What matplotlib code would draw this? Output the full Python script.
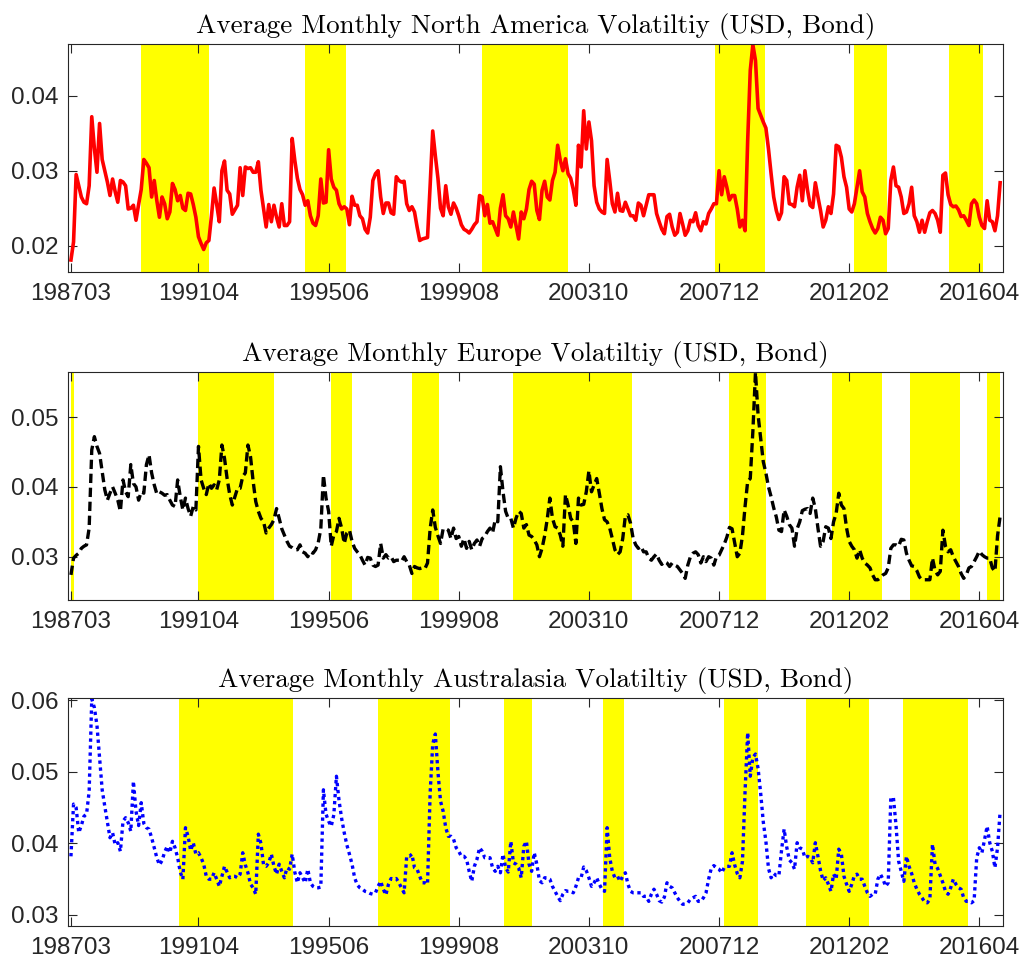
import matplotlib
matplotlib.use('Agg')
import matplotlib.pyplot as plt
import numpy as np
import pandas as pd

# monthly average volatility, 198703 .. 201612
na_vol = [
    0.0181, 0.0205, 0.0295, 0.0280, 0.0265, 0.0258, 0.0256, 0.0280, 0.0372, 0.0330,
    0.0298, 0.0363, 0.0315, 0.0300, 0.0285, 0.0267, 0.0289, 0.0272, 0.0258, 0.0287,
    0.0285, 0.0280, 0.0249, 0.0250, 0.0254, 0.0234, 0.0255, 0.0275, 0.0315, 0.0310,
    0.0304, 0.0265, 0.0287, 0.0260, 0.0238, 0.0265, 0.0256, 0.0236, 0.0245, 0.0283,
    0.0275, 0.0260, 0.0267, 0.0250, 0.0247, 0.0270, 0.0269, 0.0255, 0.0238, 0.0212,
    0.0203, 0.0195, 0.0204, 0.0207, 0.0240, 0.0277, 0.0255, 0.0232, 0.0300, 0.0313,
    0.0274, 0.0269, 0.0242, 0.0248, 0.0254, 0.0304, 0.0267, 0.0305, 0.0303, 0.0304,
    0.0298, 0.0298, 0.0312, 0.0274, 0.0250, 0.0225, 0.0255, 0.0232, 0.0254, 0.0238,
    0.0225, 0.0256, 0.0227, 0.0227, 0.0232, 0.0343, 0.0314, 0.0290, 0.0275, 0.0268,
    0.0254, 0.0260, 0.0240, 0.0230, 0.0227, 0.0240, 0.0289, 0.0257, 0.0258, 0.0328,
    0.0289, 0.0278, 0.0274, 0.0256, 0.0249, 0.0252, 0.0249, 0.0228, 0.0266, 0.0254,
    0.0254, 0.0240, 0.0236, 0.0222, 0.0217, 0.0238, 0.0287, 0.0296, 0.0300, 0.0265,
    0.0243, 0.0257, 0.0257, 0.0244, 0.0242, 0.0292, 0.0287, 0.0285, 0.0286, 0.0256,
    0.0247, 0.0252, 0.0245, 0.0225, 0.0207, 0.0209, 0.0210, 0.0211, 0.0280, 0.0353,
    0.0320, 0.0290, 0.0250, 0.0240, 0.0280, 0.0252, 0.0242, 0.0257, 0.0250, 0.0240,
    0.0228, 0.0222, 0.0220, 0.0217, 0.0222, 0.0228, 0.0232, 0.0267, 0.0265, 0.0240,
    0.0255, 0.0230, 0.0232, 0.0223, 0.0214, 0.0250, 0.0268, 0.0240, 0.0236, 0.0225,
    0.0245, 0.0227, 0.0209, 0.0245, 0.0236, 0.0249, 0.0275, 0.0286, 0.0282, 0.0247,
    0.0235, 0.0274, 0.0286, 0.0265, 0.0261, 0.0287, 0.0298, 0.0334, 0.0314, 0.0300,
    0.0316, 0.0296, 0.0290, 0.0275, 0.0254, 0.0334, 0.0305, 0.0380, 0.0329, 0.0365,
    0.0340, 0.0280, 0.0258, 0.0249, 0.0245, 0.0243, 0.0315, 0.0287, 0.0256, 0.0245,
    0.0270, 0.0247, 0.0246, 0.0258, 0.0249, 0.0240, 0.0240, 0.0234, 0.0257, 0.0254,
    0.0240, 0.0254, 0.0268, 0.0268, 0.0268, 0.0243, 0.0232, 0.0222, 0.0216, 0.0239,
    0.0242, 0.0225, 0.0214, 0.0218, 0.0243, 0.0229, 0.0214, 0.0220, 0.0234, 0.0232,
    0.0244, 0.0227, 0.0220, 0.0232, 0.0229, 0.0243, 0.0249, 0.0256, 0.0256, 0.0300,
    0.0268, 0.0292, 0.0278, 0.0261, 0.0267, 0.0267, 0.0249, 0.0225, 0.0234, 0.0220,
    0.0340, 0.0434, 0.0468, 0.0447, 0.0383, 0.0374, 0.0365, 0.0357, 0.0329, 0.0296,
    0.0265, 0.0247, 0.0235, 0.0244, 0.0292, 0.0287, 0.0256, 0.0255, 0.0252, 0.0278,
    0.0294, 0.0260, 0.0300, 0.0274, 0.0254, 0.0251, 0.0284, 0.0265, 0.0247, 0.0225,
    0.0234, 0.0252, 0.0243, 0.0269, 0.0334, 0.0332, 0.0318, 0.0292, 0.0278, 0.0249,
    0.0245, 0.0256, 0.0278, 0.0300, 0.0272, 0.0265, 0.0243, 0.0232, 0.0223, 0.0217,
    0.0223, 0.0238, 0.0234, 0.0216, 0.0223, 0.0287, 0.0305, 0.0280, 0.0278, 0.0265,
    0.0243, 0.0245, 0.0256, 0.0278, 0.0240, 0.0232, 0.0218, 0.0234, 0.0218, 0.0232,
    0.0244, 0.0247, 0.0243, 0.0234, 0.0218, 0.0294, 0.0297, 0.0268, 0.0255, 0.0252,
    0.0253, 0.0248, 0.0239, 0.0240, 0.0234, 0.0227, 0.0256, 0.0261, 0.0256, 0.0238,
    0.0227, 0.0223, 0.0260, 0.0234, 0.0232, 0.0220, 0.0240, 0.0284,
]

eu_vol = [
    0.0274, 0.0298, 0.0302, 0.0305, 0.0312, 0.0315, 0.0317, 0.0341, 0.0453, 0.0472,
    0.0458, 0.0448, 0.0422, 0.0396, 0.0381, 0.0391, 0.0400, 0.0391, 0.0381, 0.0365,
    0.0410, 0.0393, 0.0386, 0.0432, 0.0405, 0.0400, 0.0381, 0.0393, 0.0391, 0.0432,
    0.0446, 0.0420, 0.0403, 0.0390, 0.0393, 0.0391, 0.0388, 0.0389, 0.0381, 0.0374,
    0.0372, 0.0410, 0.0386, 0.0367, 0.0384, 0.0369, 0.0358, 0.0372, 0.0367, 0.0458,
    0.0410, 0.0398, 0.0389, 0.0405, 0.0398, 0.0403, 0.0396, 0.0410, 0.0460, 0.0441,
    0.0412, 0.0389, 0.0374, 0.0386, 0.0398, 0.0398, 0.0415, 0.0420, 0.0460, 0.0443,
    0.0408, 0.0379, 0.0365, 0.0355, 0.0350, 0.0334, 0.0341, 0.0346, 0.0353, 0.0369,
    0.0355, 0.0340, 0.0331, 0.0322, 0.0315, 0.0313, 0.0310, 0.0310, 0.0317, 0.0307,
    0.0305, 0.0300, 0.0307, 0.0305, 0.0310, 0.0320, 0.0340, 0.0417, 0.0384, 0.0365,
    0.0315, 0.0331, 0.0336, 0.0355, 0.0341, 0.0319, 0.0334, 0.0338, 0.0322, 0.0312,
    0.0307, 0.0303, 0.0295, 0.0288, 0.0299, 0.0298, 0.0288, 0.0286, 0.0288, 0.0319,
    0.0298, 0.0303, 0.0298, 0.0300, 0.0293, 0.0295, 0.0295, 0.0293, 0.0300, 0.0293,
    0.0288, 0.0276, 0.0286, 0.0284, 0.0283, 0.0284, 0.0283, 0.0291, 0.0340, 0.0367,
    0.0342, 0.0330, 0.0319, 0.0340, 0.0340, 0.0338, 0.0326, 0.0341, 0.0326, 0.0329,
    0.0315, 0.0326, 0.0312, 0.0322, 0.0310, 0.0319, 0.0324, 0.0315, 0.0326, 0.0329,
    0.0336, 0.0341, 0.0334, 0.0353, 0.0350, 0.0429, 0.0393, 0.0365, 0.0355, 0.0355,
    0.0341, 0.0355, 0.0365, 0.0362, 0.0341, 0.0346, 0.0331, 0.0329, 0.0324, 0.0317,
    0.0300, 0.0312, 0.0330, 0.0354, 0.0384, 0.0355, 0.0343, 0.0341, 0.0331, 0.0315,
    0.0389, 0.0374, 0.0355, 0.0350, 0.0319, 0.0384, 0.0374, 0.0375, 0.0393, 0.0423,
    0.0393, 0.0403, 0.0412, 0.0391, 0.0369, 0.0353, 0.0350, 0.0341, 0.0326, 0.0310,
    0.0303, 0.0307, 0.0326, 0.0358, 0.0360, 0.0348, 0.0326, 0.0317, 0.0312, 0.0315,
    0.0307, 0.0307, 0.0298, 0.0295, 0.0300, 0.0304, 0.0295, 0.0289, 0.0293, 0.0291,
    0.0286, 0.0291, 0.0288, 0.0286, 0.0281, 0.0276, 0.0269, 0.0288, 0.0300, 0.0305,
    0.0307, 0.0303, 0.0291, 0.0300, 0.0293, 0.0300, 0.0298, 0.0288, 0.0300, 0.0302,
    0.0310, 0.0318, 0.0328, 0.0342, 0.0340, 0.0320, 0.0300, 0.0305, 0.0330, 0.0372,
    0.0408, 0.0412, 0.0480, 0.0564, 0.0503, 0.0470, 0.0436, 0.0420, 0.0400, 0.0386,
    0.0370, 0.0357, 0.0338, 0.0336, 0.0367, 0.0358, 0.0346, 0.0341, 0.0315, 0.0340,
    0.0350, 0.0366, 0.0368, 0.0369, 0.0362, 0.0384, 0.0369, 0.0341, 0.0315, 0.0322,
    0.0343, 0.0341, 0.0326, 0.0350, 0.0362, 0.0391, 0.0374, 0.0369, 0.0341, 0.0322,
    0.0315, 0.0310, 0.0298, 0.0310, 0.0298, 0.0291, 0.0288, 0.0284, 0.0274, 0.0267,
    0.0267, 0.0270, 0.0274, 0.0276, 0.0284, 0.0312, 0.0317, 0.0317, 0.0315, 0.0325,
    0.0324, 0.0305, 0.0295, 0.0287, 0.0286, 0.0280, 0.0271, 0.0267, 0.0267, 0.0267,
    0.0267, 0.0298, 0.0280, 0.0274, 0.0279, 0.0338, 0.0315, 0.0307, 0.0310, 0.0300,
    0.0293, 0.0286, 0.0276, 0.0269, 0.0274, 0.0284, 0.0286, 0.0293, 0.0300, 0.0308,
    0.0303, 0.0300, 0.0298, 0.0298, 0.0284, 0.0279, 0.0330, 0.0358,
]

au_vol = [
    0.0382, 0.0455, 0.0450, 0.0415, 0.0425, 0.0438, 0.0441, 0.0473, 0.0602, 0.0590,
    0.0565, 0.0520, 0.0475, 0.0452, 0.0430, 0.0408, 0.0415, 0.0398, 0.0401, 0.0389,
    0.0431, 0.0436, 0.0429, 0.0417, 0.0487, 0.0445, 0.0425, 0.0457, 0.0428, 0.0422,
    0.0420, 0.0408, 0.0394, 0.0380, 0.0370, 0.0376, 0.0388, 0.0396, 0.0387, 0.0403,
    0.0394, 0.0380, 0.0360, 0.0350, 0.0422, 0.0410, 0.0390, 0.0401, 0.0385, 0.0387,
    0.0380, 0.0371, 0.0354, 0.0350, 0.0350, 0.0359, 0.0350, 0.0340, 0.0354, 0.0368,
    0.0360, 0.0352, 0.0354, 0.0354, 0.0352, 0.0357, 0.0387, 0.0370, 0.0359, 0.0343,
    0.0338, 0.0329, 0.0413, 0.0400, 0.0370, 0.0368, 0.0373, 0.0385, 0.0368, 0.0357,
    0.0371, 0.0361, 0.0352, 0.0366, 0.0364, 0.0385, 0.0360, 0.0345, 0.0359, 0.0352,
    0.0345, 0.0364, 0.0345, 0.0340, 0.0338, 0.0338, 0.0339, 0.0475, 0.0441, 0.0431,
    0.0424, 0.0440, 0.0494, 0.0460, 0.0435, 0.0415, 0.0398, 0.0385, 0.0371, 0.0352,
    0.0342, 0.0338, 0.0336, 0.0333, 0.0332, 0.0330, 0.0329, 0.0331, 0.0340, 0.0347,
    0.0336, 0.0328, 0.0343, 0.0351, 0.0350, 0.0351, 0.0345, 0.0338, 0.0331, 0.0382,
    0.0382, 0.0385, 0.0366, 0.0364, 0.0354, 0.0345, 0.0345, 0.0343, 0.0470, 0.0539,
    0.0553, 0.0500, 0.0459, 0.0445, 0.0422, 0.0410, 0.0410, 0.0406, 0.0394, 0.0389,
    0.0382, 0.0382, 0.0378, 0.0361, 0.0347, 0.0368, 0.0378, 0.0394, 0.0389, 0.0380,
    0.0380, 0.0380, 0.0366, 0.0361, 0.0368, 0.0359, 0.0385, 0.0366, 0.0360, 0.0403,
    0.0373, 0.0371, 0.0366, 0.0352, 0.0396, 0.0403, 0.0371, 0.0361, 0.0387, 0.0371,
    0.0348, 0.0345, 0.0352, 0.0352, 0.0350, 0.0340, 0.0333, 0.0326, 0.0320, 0.0329,
    0.0334, 0.0333, 0.0333, 0.0331, 0.0340, 0.0352, 0.0352, 0.0367, 0.0362, 0.0352,
    0.0340, 0.0345, 0.0352, 0.0343, 0.0336, 0.0333, 0.0422, 0.0380, 0.0361, 0.0352,
    0.0354, 0.0347, 0.0354, 0.0359, 0.0343, 0.0333, 0.0331, 0.0331, 0.0331, 0.0331,
    0.0326, 0.0326, 0.0319, 0.0329, 0.0336, 0.0329, 0.0320, 0.0318, 0.0325, 0.0345,
    0.0340, 0.0338, 0.0331, 0.0324, 0.0319, 0.0315, 0.0315, 0.0317, 0.0322, 0.0324,
    0.0326, 0.0319, 0.0319, 0.0324, 0.0331, 0.0350, 0.0365, 0.0369, 0.0366, 0.0364,
    0.0359, 0.0366, 0.0368, 0.0368, 0.0387, 0.0370, 0.0358, 0.0352, 0.0375, 0.0473,
    0.0555, 0.0494, 0.0520, 0.0525, 0.0505, 0.0470, 0.0430, 0.0403, 0.0365, 0.0352,
    0.0358, 0.0355, 0.0355, 0.0390, 0.0420, 0.0395, 0.0377, 0.0373, 0.0364, 0.0401,
    0.0394, 0.0392, 0.0380, 0.0382, 0.0380, 0.0373, 0.0401, 0.0382, 0.0362, 0.0348,
    0.0352, 0.0343, 0.0333, 0.0357, 0.0350, 0.0392, 0.0385, 0.0354, 0.0343, 0.0333,
    0.0343, 0.0355, 0.0357, 0.0350, 0.0350, 0.0340, 0.0331, 0.0326, 0.0329, 0.0329,
    0.0350, 0.0357, 0.0350, 0.0340, 0.0345, 0.0464, 0.0464, 0.0425, 0.0375, 0.0361,
    0.0347, 0.0382, 0.0368, 0.0358, 0.0345, 0.0336, 0.0329, 0.0324, 0.0318, 0.0317,
    0.0322, 0.0399, 0.0371, 0.0365, 0.0355, 0.0345, 0.0333, 0.0329, 0.0338, 0.0350,
    0.0343, 0.0338, 0.0336, 0.0324, 0.0319, 0.0319, 0.0317, 0.0320, 0.0380, 0.0394,
    0.0387, 0.0405, 0.0424, 0.0401, 0.0389, 0.0366, 0.0394, 0.0445,
]

# highlighted periods (month number, 1 = 198703)
na_bands = [(28, 54), (91, 106.5), (159, 192), (248.5, 267.5), (302, 314.5), (338.5, 351.5)]
eu_bands = [(1, 2), (50, 79), (101, 109), (132, 142.5), (171, 216.5), (254, 268),
            (293.5, 312.5), (323.5, 342.5), (353, 358)]
au_bands = [(42.5, 86.5), (119, 146.5), (167.5, 178), (205.5, 213.5), (252, 265),
            (283.5, 307.5), (320.5, 345.5)]

tick_labels = ['198703', '199104', '199506', '199908', '200310', '200712', '201202', '201604']

titles = ['Average Monthly North America Volatiltiy (USD, Bond)',
          'Average Monthly Europe Volatiltiy (USD, Bond)',
          'Average Monthly Australasia Volatiltiy (USD, Bond)']

n = len(na_vol)
months = pd.period_range('1987-03', periods=n, freq='M').strftime('%Y%m')
xt = [list(months).index(t) + 1 for t in tick_labels]

plt.rcParams['font.family'] = 'Liberation Sans'
plt.rcParams['axes.formatter.use_mathtext'] = True

fig = plt.figure(figsize=(10.23, 9.69), dpi=100)
rects = [[0.0668, 0.7193, 0.9134, 0.2353],
         [0.0668, 0.3808, 0.9134, 0.2356],
         [0.0668, 0.0447, 0.9134, 0.2347]]
series = [na_vol, eu_vol, au_vol]
bands = [na_bands, eu_bands, au_bands]
styles = [dict(color='r', ls='-', lw=2.6),
          dict(color='k', ls=(0, (2.8, 1.4)), lw=2.4),
          dict(color='b', ls=(0, (1, 1.1)), lw=2.4)]
ylims = [(0.0165, 0.0469), (0.0238, 0.0565), (0.0285, 0.0603)]
yticks = [[0.02, 0.03, 0.04], [0.03, 0.04, 0.05], [0.03, 0.04, 0.05, 0.06]]

for k in range(3):
    ax = fig.add_axes(rects[k])
    y = np.array(series[k])
    x = np.arange(1, len(y) + 1)
    for a, b in bands[k]:
        ax.axvspan(a, b, color='yellow', lw=0, zorder=0)
    ax.plot(x, y, zorder=2, **styles[k])
    ax.set_xlim(0, 359)
    ax.set_ylim(*ylims[k])
    ax.set_xticks(xt)
    ax.set_xticklabels(tick_labels)
    ax.set_yticks(yticks[k])
    ax.set_yticklabels(['%.2f' % v for v in yticks[k]])
    ax.tick_params(direction='in', length=6.5, width=0.8, colors='#262626',
                   labelsize=17.5, top=True, right=True)
    ax.tick_params(axis='x', pad=8)
    ax.tick_params(axis='y', pad=7)
    ax.tick_params(labelcolor='#262626')
    for s in ax.spines.values():
        s.set_color('#262626')
        s.set_linewidth(0.8)
    ax.set_title(titles[k], fontsize=19.5, family='cmr10', pad=8)

plt.savefig('out.png', dpi=100)
